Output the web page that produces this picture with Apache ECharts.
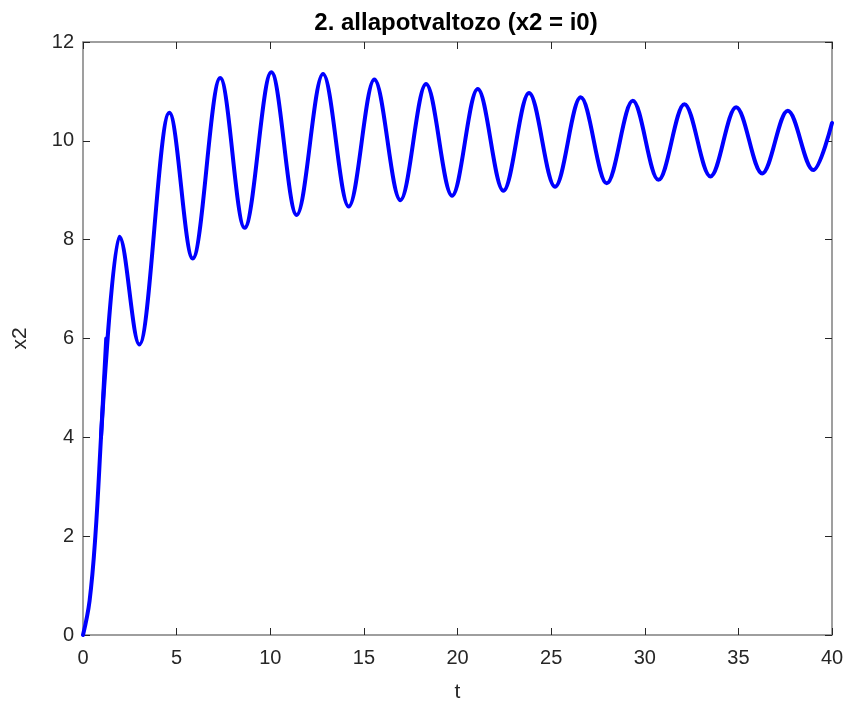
<!DOCTYPE html>
<html>
<head>
<meta charset="utf-8">
<script src="https://cdn.jsdelivr.net/npm/echarts@6/dist/echarts.min.js"></script>
<style>
html,body{margin:0;padding:0;background:#fff;}
#chart{width:848px;height:709px;}
</style>
</head>
<body>
<div id="chart"></div>
<script>
// Data
// foot of the initial rise (points read on the curve)
var riseT  = [0, 0.35, 0.66, 0.96, 1.24];
var riseX2 = [0, 0.69, 2, 4, 6];
// steep part of the rise, then the successive peaks and troughs
var oscT  = [0.96, 1.94, 3.01, 4.61, 5.86, 7.33, 8.63, 10.06, 11.41, 12.82, 14.19, 15.56, 16.95,
  18.32, 19.71, 21.08, 22.45, 23.82, 25.21, 26.58, 27.97, 29.36, 30.73, 32.12, 33.51,
  34.88, 36.27, 37.64, 39.0, 40.0];
var oscX2 = [4, 8.06, 5.88, 10.57, 7.62, 11.27, 8.24, 11.39, 8.5, 11.35, 8.67, 11.24, 8.8,
  11.15, 8.89, 11.05, 8.99, 10.97, 9.07, 10.88, 9.14, 10.81, 9.21, 10.74, 9.28,
  10.68, 9.34, 10.61, 9.41, 10.36];
var xTicks = [0, 5, 10, 15, 20, 25, 30, 35, 40];
var yTicks = [0, 2, 4, 6, 8, 10, 12];

var titleText = '2. allapotvaltozo (x2 = i0)';
var xLabel = 't';
var yLabel = 'x2';

function pairs(a, b) { return a.map(function (t, i) { return [t, b[i]]; }); }

var FONT = '"Liberation Sans", Arial, Helvetica, sans-serif';
var textColor = '#262626';
var boxColor = '#7f7f7f';

function mkX(show, pos) {
  return {
    type: 'value', position: pos, min: xTicks[0], max: xTicks[xTicks.length - 1],
    interval: xTicks[1] - xTicks[0],
    name: show ? xLabel : '', nameLocation: 'middle', nameGap: 47,
    nameTextStyle: { fontFamily: FONT, fontSize: 21, color: textColor },
    axisLine: { show: true, onZero: false, lineStyle: { color: boxColor, width: 1.5 } },
    axisTick: { show: true, inside: true, length: 7, lineStyle: { color: textColor, width: 1 } },
    axisLabel: { show: show, fontFamily: FONT, fontSize: 20, color: textColor, margin: 13 },
    splitLine: { show: false }
  };
}
function mkY(show, pos) {
  return {
    type: 'value', position: pos, min: yTicks[0], max: yTicks[yTicks.length - 1],
    interval: yTicks[1] - yTicks[0],
    name: show ? yLabel : '', nameLocation: 'middle', nameGap: 52, nameRotate: 90,
    nameTextStyle: { fontFamily: FONT, fontSize: 21, color: textColor },
    axisLine: { show: true, onZero: false, lineStyle: { color: boxColor, width: 1.5 } },
    axisTick: { show: true, inside: true, length: 7, lineStyle: { color: textColor, width: 1 } },
    axisLabel: { show: show, fontFamily: FONT, fontSize: 20, color: textColor, margin: 9 },
    splitLine: { show: false }
  };
}

var lineStyle = { color: '#0000ff', width: 4, cap: 'round', join: 'round' };

var chart = echarts.init(document.getElementById('chart'), null, { renderer: 'canvas' });
chart.setOption({
  animation: false,
  backgroundColor: '#ffffff',
  title: {
    text: titleText, left: 451, top: 6, textAlign: 'center',
    textStyle: { fontFamily: FONT, fontSize: 24, fontWeight: 'bold', color: '#000' }
  },
  grid: { left: 83, right: 16, top: 42, bottom: 74, containLabel: false },
  xAxis: [mkX(true, 'bottom'), mkX(false, 'top')],
  yAxis: [mkY(true, 'left'), mkY(false, 'right')],
  series: [{
    type: 'line', xAxisIndex: 0, yAxisIndex: 0, data: pairs(riseT, riseX2),
    smooth: 0.4, showSymbol: false, symbol: 'none', lineStyle: lineStyle
  }, {
    type: 'line', xAxisIndex: 0, yAxisIndex: 0, data: pairs(oscT, oscX2),
    smooth: 0.35, smoothMonotone: 'x', showSymbol: false, symbol: 'none', lineStyle: lineStyle
  }]
});
</script>
</body>
</html>
